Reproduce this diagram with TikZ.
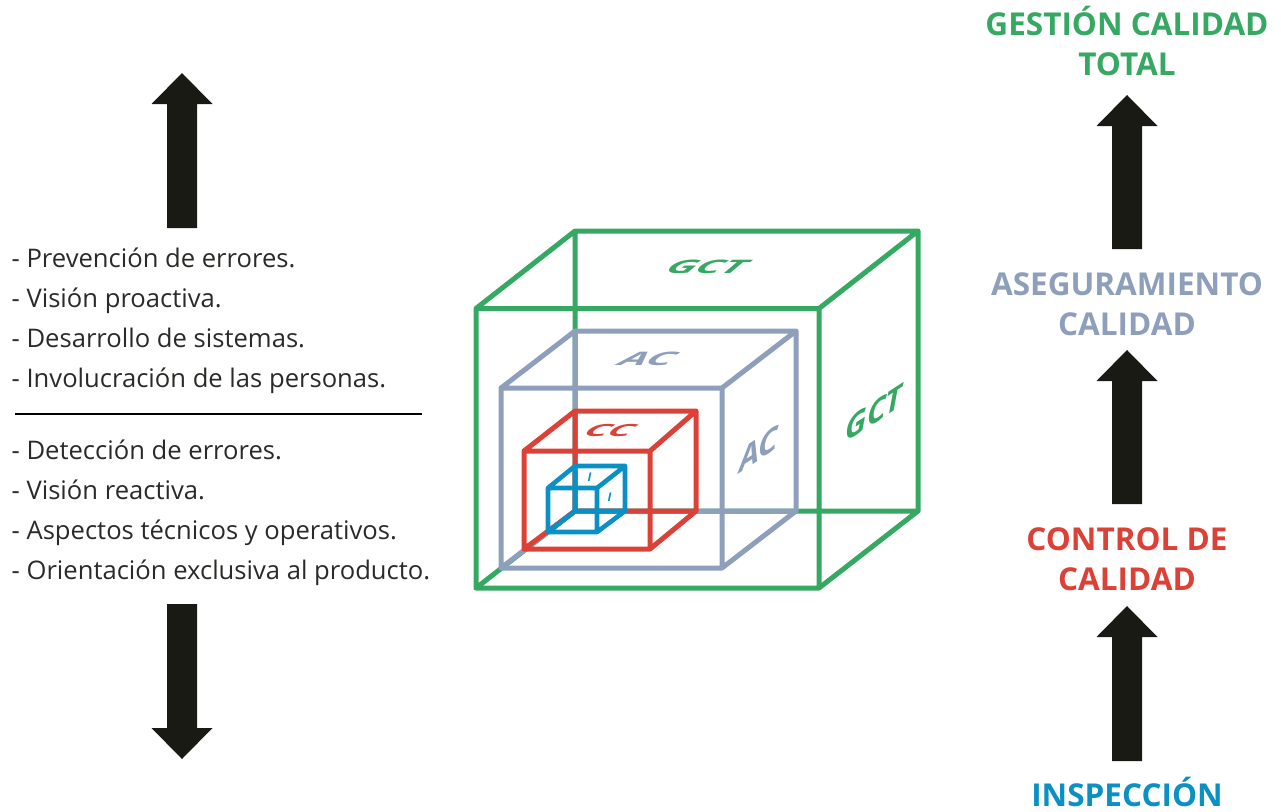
\documentclass[tikz,border=0pt]{standalone}
\usepackage{fontspec}
\setmainfont{Open Sans}
\definecolor{cgreen}{HTML}{35A862}
\definecolor{cslate}{HTML}{8E9FBC}
\definecolor{cred}{HTML}{DC4138}
\definecolor{cblue}{HTML}{0A90C4}
\definecolor{cblack}{HTML}{1A1A14}
\definecolor{ctext}{HTML}{2A2A28}
\newcommand{\wirecube}[9]{%
  \draw[#1,line width=#2,line join=round,line cap=round]
    (#7,#8) rectangle (#9,\cubeBB)
    (#3,#4) rectangle (#5,#6)
    (#3,#4) -- (#7,#8) (#5,#4) -- (#9,#8)
    (#3,#6) -- (#7,\cubeBB) (#5,#6) -- (#9,\cubeBB);}
\newcommand{\uparrowblock}[3]{% x, top, bottom
  \fill[cblack] (#1,#2) -- (#1+30.5,#2+31) -- (#1+15,#2+31) -- (#1+15,#3) -- (#1-15,#3) -- (#1-15,#2+31) -- (#1-30.5,#2+31) -- cycle;}
\newcommand{\downarrowblock}[3]{% x, bottom, top
  \fill[cblack] (#1,#2) -- (#1+30.5,#2-31) -- (#1+15,#2-31) -- (#1+15,#3) -- (#1-15,#3) -- (#1-15,#2-31) -- (#1-30.5,#2-31) -- cycle;}
\tikzset{
  bullet/.style={anchor=base west,inner sep=0pt,font=\fontsize{25.6}{30}\selectfont,text=ctext},
  heading/.style={anchor=base,inner sep=0pt,font=\fontsize{31.5}{36}\selectfont\bfseries},
  facelabel/.style={inner sep=0pt,font=\fontsize{#1}{#1}\selectfont\bfseries\itshape,transform shape},
}
\begin{document}
\begin{tikzpicture}[x=1pt,y=-1pt]
\useasboundingbox (0,0) rectangle (1281,811);
% cubes
\def\cubeBB{511}
\wirecube{cgreen}{5pt}{476}{308.5}{819}{588}{575}{231}{918}
\wirecube{cslate}{5pt}{501}{388}{722}{568}{575}{331}{796}
\wirecube{cred}{5pt}{524}{451}{650}{549}{575}{411}{696}
\wirecube{cblue}{4.6pt}{548}{488}{597}{532}{575}{466}{625}
% face labels
\node[facelabel=30,text=cgreen,xslant=.7,xscale=1.4,yscale=.62] (gcttop) at (707,267) {GCT};
\node[facelabel=30,text=cslate,xslant=.7,xscale=1.45,yscale=.62] (actop) at (648,359) {AC};
\node[facelabel=28,text=cred,xslant=.7,xscale=1.4,yscale=.6] (cctop) at (610,430) {CC};
\node[facelabel=12,text=cblue] (itop) at (589.5,477) {I};
\node[facelabel=12,text=cblue] (iside) at (609.5,497) {I};
\node[facelabel=31,text=cgreen,yslant=.65] (gctside) at (874,413) {GCT};
\node[facelabel=32,text=cslate,yslant=.65] (acside) at (759,449) {AC};
% left column
\node[bullet] (a1) at (11.5,267) {- Prevención de errores.};
\node[bullet] (a2) at (11.5,307) {- Visión proactiva.};
\node[bullet] (a3) at (11.5,347) {- Desarrollo de sistemas.};
\node[bullet] (a4) at (11.5,387) {- Involucración de las personas.};
\node[bullet] (b1) at (11.5,459) {- Detección de errores.};
\node[bullet] (b2) at (11.5,499) {- Visión reactiva.};
\node[bullet] (b3) at (11.5,539) {- Aspectos técnicos y operativos.};
\node[bullet] (b4) at (11.5,579) {- Orientación exclusiva al producto.};
\coordinate (ruleL) at (15,414);
\coordinate (ruleR) at (422,414);
\draw[black,line width=2pt] (ruleL) -- (ruleR);
\uparrowblock{182}{73}{228}
\downarrowblock{182}{759}{604}
% right column
\node[heading,text=cgreen] (g1) at (1127,35) {GESTIÓN CALIDAD};
\node[heading,text=cgreen] (g2) at (1127,75) {TOTAL};
\node[heading,text=cslate] (s1) at (1127,295) {ASEGURAMIENTO};
\node[heading,text=cslate] (s2) at (1127,335) {CALIDAD};
\node[heading,text=cred] (c1) at (1127,550) {CONTROL DE};
\node[heading,text=cred] (c2) at (1127,590) {CALIDAD};
\node[heading,text=cblue] (i1) at (1127,806) {INSPECCIÓN};
\uparrowblock{1127}{95}{249}
\uparrowblock{1127}{350}{504}
\uparrowblock{1127}{606}{761}
\end{tikzpicture}
\end{document}
